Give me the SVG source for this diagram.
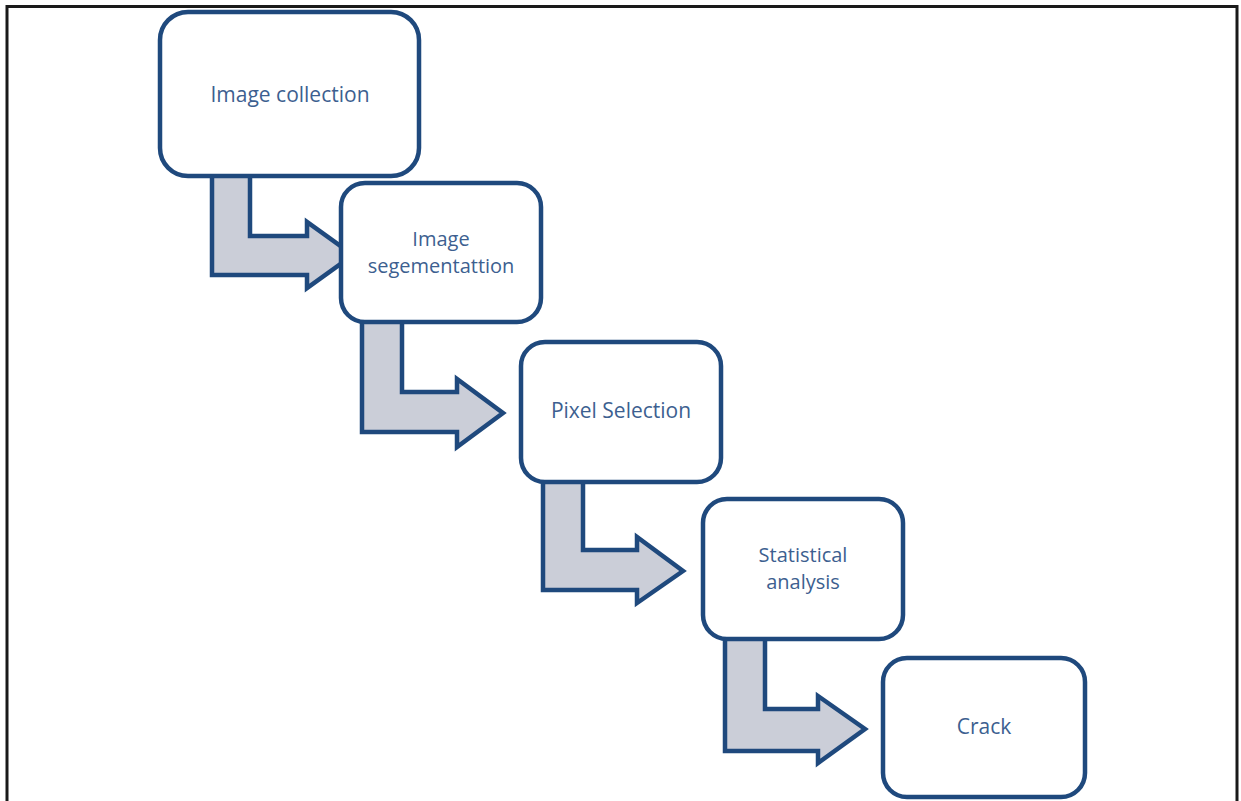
<svg xmlns="http://www.w3.org/2000/svg" width="1241" height="801" viewBox="0 0 1241 801">
<style>
.box{fill:#ffffff;stroke:#1f497d;stroke-width:4.5}
.arr{fill:#cbced8;stroke:#1f497d;stroke-width:4.5;stroke-linejoin:miter}
.lbl{font-family:"Open Sans","Noto Sans",sans-serif;font-size:21px;fill:#3d5f90;text-anchor:middle}
.two{font-size:20px}
.frame{fill:none;stroke:#1a1a1a;stroke-width:3}
</style>
<rect width="1241" height="801" fill="#ffffff"/>
<path class="frame" d="M7,801 V6.5 H1237 V801"/>
<g id="connectors">
<path class="arr" d="M212,170 V275 H307 V288 L353,255 L307,222 V236 H250 V170 Z"/>
<path class="arr" d="M362,315 V432 H457 V447 L503,413 L457,379 V392 H402 V315 Z"/>
<path class="arr" d="M543,475 V590 H637 V603 L683,571 L637,537 V550 H583 V475 Z"/>
<path class="arr" d="M725,632 V751 H818 V763 L865,729 L818,696 V709 H765 V632 Z"/>
</g>
<g id="n1"><rect class="box" x="160" y="12" width="259" height="164" rx="28"/>
<text class="lbl" x="290" y="102">Image collection</text></g>
<g id="n2"><rect class="box" x="341" y="183" width="200" height="139" rx="24"/>
<text class="lbl two" x="441" y="246">Image</text><text class="lbl two" x="441" y="273">segementattion</text></g>
<g id="n3"><rect class="box" x="521" y="342" width="200" height="140" rx="24"/>
<text class="lbl" x="621" y="418">Pixel Selection</text></g>
<g id="n4"><rect class="box" x="703" y="499" width="200" height="140" rx="24"/>
<text class="lbl two" x="803" y="562">Statistical</text><text class="lbl two" x="803" y="589">analysis</text></g>
<g id="n5"><rect class="box" x="883" y="658" width="202" height="139" rx="24"/>
<text class="lbl" x="984" y="734">Crack</text></g>
</svg>
